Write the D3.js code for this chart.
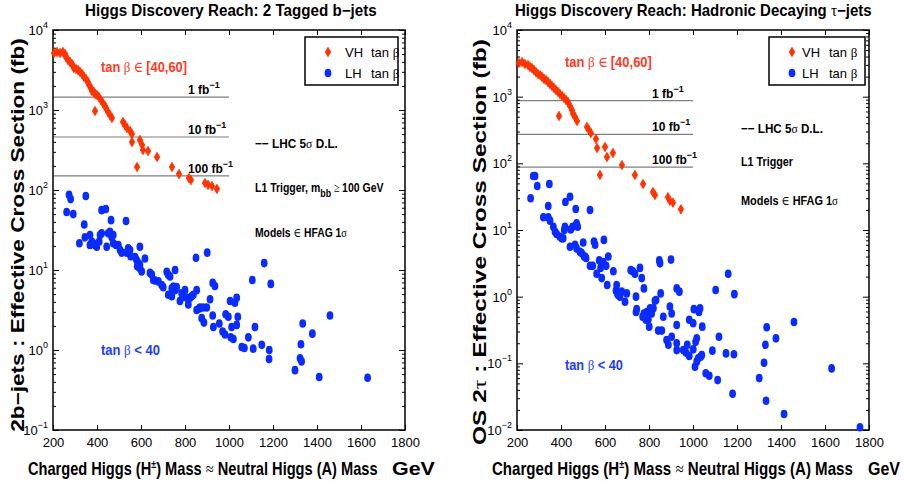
<!DOCTYPE html>
<html><head><meta charset="utf-8">
<script src="https://cdn.jsdelivr.net/npm/d3@7"></script>
<style>html,body{margin:0;padding:0;background:#fff;} svg{display:block;}</style>
</head><body>
<svg id="chart" width="905" height="489"></svg>
<script>
// ---------------- DATA ----------------
const xTicks = [200, 400, 600, 800, 1000, 1200, 1400, 1600, 1800];
const lumiLabels = ["1", "10", "100"];
const lumiLeft = [1450, 460, 150];   // LHC 5σ discovery limits (fb), 2b-jets
const lumiRight = [870, 272, 88];    // LHC 5σ discovery limits (fb), τ-jets
const legendLabels = ["VH", "LH"];

// [mass GeV, effective cross section fb]
const leftVH = [[205,5160],[218,5310],[232,5160],[245,5310],[255,5010],[259,4600],[268,4220],[277,3980],[286,3760],[291,3550],[295,3350],[305,3250],[314,3160],[323,2990],[332,2820],[341,2590],[350,2440],[359,2240],[364,2050],[373,1880],[377,1730],[386,1680],[391,1580],[400,1540],[409,1450],[418,1330],[427,1220],[436,1120],[441,1060],[450,944],[459,866],[468,794],[391,972],[518,708],[527,650],[536,596],[550,546],[559,501],[559,398],[595,422],[605,365],[609,316],[582,194],[632,307],[673,258],[741,194],[773,158],[818,141],[827,133],[891,122],[905,116],[923,112],[945,103]];

const leftLH = [[262,53],[273,87],[280,77],[292,50],[349,84],[320,21.6],[342,37],[345,25.6],[368,27.4],[376,22.7],[368,20.5],[383,21.6],[391,20.5],[399,19.5],[410,22.7],[414,27.4],[421,28.7],[421,56],[440,58],[444,19.5],[451,28.7],[459,30],[464,42],[467,25.6],[474,27.4],[474,21.6],[486,20.5],[497,20.5],[505,17.8],[512,16.5],[532,41],[535,16.5],[542,18.7],[550,17.8],[553,14.9],[573,14.5],[580,13.3],[588,12.2],[583,11.1],[595,19.5],[595,11.6],[595,10.5],[618,13.9],[603,9.6],[641,9.2],[649,8.8],[656,7.5],[664,7.4],[679,7.2],[694,6.5],[701,6.1],[717,9.5],[724,8.7],[732,8.3],[740,5.9],[724,4.9],[740,4.7],[755,10],[747,6.2],[755,5.6],[762,6.1],[777,4.1],[785,5.1],[790,4.6],[800,5.6],[808,4.5],[815,3.7],[823,4.5],[830,4.7],[838,4.9],[850,14.2],[853,5.6],[853,3.16],[865,3.3],[868,3.4],[882,3.4],[899,3.4],[876,2.5],[886,2.2],[901,16.5],[926,6.9],[936,6.3],[914,4.3],[926,2.7],[929,1.94],[956,2.14],[971,1.7],[982,1.56],[985,2.8],[997,2.6],[1005,4.1],[1012,1.94],[1008,1.44],[1020,1.37],[1027,3.9],[1035,4.5],[1040,2.6],[1035,2.06],[1058,1.09],[1070,1.06],[1088,1.44],[1106,7.5],[1118,1.94],[1110,1.04],[1149,1.16],[1160,12.2],[1183,1.0],[1190,6.7],[1182,0.77],[1300,0.56],[1323,0.79],[1330,0.72],[1327,1.18],[1335,2.14],[1379,1.6],[1410,0.46],[1459,2.7],[1630,0.45]];

const rightVH = [[209,3200],[223,3310],[236,3090],[250,2990],[259,2790],[268,2690],[277,2510],[286,2340],[295,2180],[305,2110],[314,1970],[323,1840],[332,1780],[341,1660],[350,1550],[359,1450],[368,1350],[377,1260],[386,1180],[395,1100],[405,1020],[414,955],[423,890],[432,830],[441,725],[450,630],[455,550],[464,495],[473,430],[391,513],[518,351],[527,316],[536,285],[559,232],[564,170],[600,176],[609,124],[636,143],[677,94],[577,67],[736,67],[773,49],[818,37],[827,33.5],[886,31],[895,27.5],[909,25.7],[945,20.4]];

const rightLH = [[274,64.6],[282,64.6],[292,45.7],[262,29.9],[347,49],[342,22.9],[320,15.5],[342,15.5],[350,13.8],[365,11.2],[373,9.4],[380,8.7],[395,7.9],[403,7.5],[410,7.5],[415,10],[418,11.2],[420,26.3],[441,31.6],[441,5.6],[444,10.2],[453,11.2],[467,20.7],[471,12.6],[476,11.2],[464,6.0],[471,5.3],[486,4.7],[494,4.5],[501,6.5],[505,4.0],[509,4.0],[514,3.8],[532,20],[532,2.9],[544,2.9],[550,6.7],[555,6.0],[562,2.2],[574,3.5],[580,2.7],[585,3.0],[585,1.9],[595,7.1],[592,3.3],[605,2.9],[610,1.5],[615,4.0],[638,2.4],[650,1.23],[653,1.5],[656,1.12],[660,1.06],[668,1.0],[676,1.19],[691,0.84],[699,1.12],[717,2.5],[726,2.4],[736,2.2],[744,0.65],[741,0.59],[741,1.0],[759,2.7],[767,1.9],[777,1.33],[777,0.56],[771,0.50],[786,0.45],[790,0.59],[797,0.46],[801,0.355],[805,0.67],[812,0.56],[820,0.67],[827,0.87],[832,0.89],[842,0.31],[847,3.5],[850,3.16],[853,1.12],[858,0.31],[865,0.50],[880,0.224],[888,0.19],[895,0.71],[900,3.6],[903,0.56],[903,0.25],[926,1.33],[938,1.19],[926,0.376],[926,0.20],[926,0.158],[956,0.158],[968,0.145],[974,0.19],[983,0.45],[983,0.129],[1001,0.40],[1001,0.162],[1004,0.65],[1012,0.21],[1017,0.237],[1009,0.089],[1017,0.106],[1024,0.119],[1027,0.59],[1032,0.67],[1035,0.126],[1040,0.133],[1042,0.355],[1058,0.071],[1074,0.065],[1088,0.155],[1103,1.26],[1112,0.056],[1118,0.25],[1150,0.141],[1160,2.2],[1180,0.035],[1186,0.137],[1188,1.09],[1301,0.060],[1323,0.102],[1329,0.19],[1335,0.347],[1332,0.0275],[1377,0.237],[1414,0.0174],[1459,0.417],[1630,0.084],[1759,0.011]];

// ---------------- STYLE ----------------
const FONT = "'Liberation Sans Narrow','Arial Narrow','Liberation Sans',Arial,sans-serif";
const SYM = "'Liberation Serif','DejaVu Serif',serif";
const RED = "#ff3300";
const BLUE = "#0a2cff";
const RED_TXT = "#ff3b1f";
const BLUE_TXT = "#1c3cff";

const svg = d3.select("#chart");

function rich(sel, parts) {
  let cur = 0;
  parts.forEach(p => {
    const ts = sel.append("tspan").text(p.t);
    const target = p.sup ? -p.sup : (p.sub ? p.sub : 0);
    if (target !== cur) { ts.attr("dy", target - cur); cur = target; }
    if (p.sym) ts.attr("font-family", SYM).attr("font-weight", "normal");
    if (p.size) ts.attr("font-size", p.size);
  });
  return sel;
}
function fitWidth(t, w, anchor) {
  const bb = t.node().getBBox();
  if (!bb.width) return;
  const s = w / bb.width;
  const ax = anchor === "middle" ? bb.x + bb.width / 2 : anchor === "end" ? bb.x + bb.width : bb.x;
  t.attr("transform", `translate(${ax},0) scale(${s},1) translate(${-ax},0)`);
}
function label(parent, x, y, parts, opt) {
  opt = opt || {};
  const t = parent.append("text").attr("x", x).attr("y", y)
    .attr("font-family", FONT).attr("font-size", opt.size || 13)
    .attr("font-weight", opt.weight || "bold").attr("fill", opt.fill || "#000")
    .attr("text-anchor", opt.anchor || "start");
  rich(t, parts);
  if (opt.width) fitWidth(t, opt.width, opt.anchor || "start");
  return t;
}

const TOP = 30, BOT = 430;

const panels = [
  {
    x0: 53, x1: 405, yDom: [0.1, 1e4], vh: leftVH, lh: leftLH, lumi: lumiLeft,
    title: { x: 85, w: 292, parts: [{t: "Higgs Discovery Reach: 2 Tagged b−jets"}] },
    ytitle: { x: 24, yc: 235, w: 394, parts: [{t: "2b−jets : Effective Cross Section  (fb)"}] },
    xtitle: { x: 28, w: 350, gx: 392, gw: 43 },
    legend: { x: 305, w: 93, sx: 23, vx: 40, tx: 66 },
    ann: [
      { x: 101, y: 72, w: 86, size: 15, fill: RED_TXT, parts: [{t: "tan "}, {t: "β", sym: 1}, {t: " ∈ ", sym: 1}, {t: "[40,60]"}] },
      { x: 255, y: 148, w: 83, size: 13, parts: [{t: "−− LHC 5"}, {t: "σ", sym: 1}, {t: " D.L."}] },
      { x: 255, y: 192, w: 129, size: 13, parts: [{t: "L1 Trigger, m"}, {t: "bb", sub: 5, size: 11}, {t: " ≥ ", sym: 1}, {t: "100 GeV"}] },
      { x: 255, y: 237, w: 92, size: 13, parts: [{t: "Models "}, {t: "∈", sym: 1}, {t: " HFAG 1"}, {t: "σ", sym: 1}] },
      { x: 101, y: 355, w: 59, size: 15, fill: BLUE_TXT, parts: [{t: "tan "}, {t: "β", sym: 1}, {t: " < 40"}] }
    ]
  },
  {
    x0: 517, x1: 869, yDom: [0.01, 1e4], vh: rightVH, lh: rightLH, lumi: lumiRight,
    title: { x: 515, w: 357, parts: [{t: "Higgs Discovery Reach: Hadronic Decaying "}, {t: "τ", sym: 1}, {t: "−jets"}] },
    ytitle: { x: 486, yc: 242, w: 406, parts: [{t: "OS 2"}, {t: "τ", sym: 1}, {t: " : Effective Cross Section  (fb)"}] },
    xtitle: { x: 492, w: 361, gx: 868, gw: 32 },
    legend: { x: 769, w: 96, sx: 23, vx: 33, tx: 60 },
    ann: [
      { x: 565, y: 67, w: 87, size: 15, fill: RED_TXT, parts: [{t: "tan "}, {t: "β", sym: 1}, {t: " ∈ ", sym: 1}, {t: "[40,60]"}] },
      { x: 741, y: 133, w: 82, size: 13, parts: [{t: "−− LHC 5"}, {t: "σ", sym: 1}, {t: " D.L."}] },
      { x: 741, y: 166, w: 52, size: 13, parts: [{t: "L1 Trigger"}] },
      { x: 741, y: 205, w: 97, size: 13, parts: [{t: "Models "}, {t: "∈", sym: 1}, {t: " HFAG 1"}, {t: "σ", sym: 1}] },
      { x: 565, y: 370, w: 58, size: 15, fill: BLUE_TXT, parts: [{t: "tan "}, {t: "β", sym: 1}, {t: " < 40"}] }
    ]
  }
];

const LUMI_END = 1000, LUMI_LABEL = 814;

panels.forEach(P => {
  const x = d3.scaleLinear().domain([200, 1800]).range([P.x0, P.x1]);
  const y = d3.scaleLog().domain(P.yDom).range([BOT, TOP]);
  const g = svg.append("g");

  const e0 = Math.round(Math.log10(P.yDom[0])), e1 = Math.round(Math.log10(P.yDom[1]));
  const majors = d3.range(e0, e1 + 1).map(e => Math.pow(10, e));
  const minors = [];
  d3.range(e0, e1).forEach(e => { for (let k = 2; k <= 9; k++) minors.push(k * Math.pow(10, e)); });

  // luminosity reach lines
  P.lumi.forEach((v, i) => {
    g.append("line").attr("x1", x(200)).attr("x2", x(LUMI_END))
      .attr("y1", y(v)).attr("y2", y(v))
      .attr("stroke", "#7f7f7f").attr("stroke-width", 1.2);
    label(g, x(LUMI_LABEL), y(v) - 3, [{t: lumiLabels[i] + " fb"}, {t: "−1", sup: 6, size: 9}], { size: 12 });
  });

  // axes
  const styleAx = s => { s.select(".domain").remove(); s.selectAll("line").attr("stroke", "#000"); };
  g.append("g").attr("transform", `translate(0,${BOT})`)
    .call(d3.axisBottom(x).tickValues(xTicks).tickSizeInner(-5).tickSizeOuter(0).tickPadding(8).tickFormat(d3.format("d")))
    .call(styleAx)
    .call(s => s.selectAll("text").attr("font-family", FONT).attr("font-size", 13).attr("fill", "#000"));
  g.append("g").attr("transform", `translate(0,${TOP})`)
    .call(d3.axisTop(x).tickValues(xTicks).tickSizeInner(-5).tickSizeOuter(0).tickFormat(""))
    .call(styleAx);
  [[d3.axisLeft, P.x0], [d3.axisRight, P.x1]].forEach(([ax, px]) => {
    g.append("g").attr("transform", `translate(${px},0)`)
      .call(ax(y).tickValues(majors).tickSizeInner(-6).tickSizeOuter(0).tickFormat(""))
      .call(styleAx);
    g.append("g").attr("transform", `translate(${px},0)`)
      .call(ax(y).tickValues(minors).tickSizeInner(-3).tickSizeOuter(0).tickFormat(""))
      .call(styleAx);
  });
  majors.forEach(v => {
    const e = Math.round(Math.log10(v));
    label(g, P.x0 - 5, y(v) + 5, [{t: "10"}, {t: e < 0 ? "−" + (-e) : String(e), sup: 7, size: 9}],
      { size: 13, weight: "normal", anchor: "end" });
  });

  // frame
  g.append("rect").attr("x", P.x0).attr("y", TOP).attr("width", P.x1 - P.x0).attr("height", BOT - TOP)
    .attr("fill", "none").attr("stroke", "#000").attr("stroke-width", 1.5);

  // data
  const diamond = d3.symbol(d3.symbolDiamond, 26);
  g.append("g").selectAll("path").data(P.vh).join("path")
    .attr("transform", d => `translate(${x(d[0])},${y(d[1])})`)
    .attr("d", diamond).attr("fill", RED).attr("stroke", RED).attr("stroke-width", 0.8);
  g.append("g").selectAll("ellipse").data(P.lh).join("ellipse")
    .attr("cx", d => x(d[0])).attr("cy", d => y(d[1]))
    .attr("rx", 3.4).attr("ry", 4.3).attr("fill", BLUE);

  // legend
  const L = P.legend;
  g.append("rect").attr("x", L.x).attr("y", 37).attr("width", L.w).attr("height", 48)
    .attr("fill", "#fff").attr("stroke", "#000").attr("stroke-width", 1.5);
  g.append("path").attr("transform", `translate(${L.x + L.sx},52)`).attr("d", diamond)
    .attr("fill", RED).attr("stroke", RED).attr("stroke-width", 0.8);
  g.append("ellipse").attr("cx", L.x + L.sx).attr("cy", 73).attr("rx", 3.4).attr("ry", 4.3).attr("fill", BLUE);
  legendLabels.forEach((lab, i) => {
    const by = 57 + i * 21;
    label(g, L.x + L.vx, by, [{t: lab}], { size: 13, weight: "normal" });
    label(g, L.x + L.tx, by, [{t: "tan "}, {t: "β", sym: 1}], { size: 13, weight: "normal" });
  });

  // annotations
  P.ann.forEach(a => label(g, a.x, a.y, a.parts, { size: a.size, fill: a.fill || "#000", width: a.w }));

  // titles
  label(g, P.title.x, 16, P.title.parts, { size: 16, width: P.title.w });
  label(g, P.xtitle.x, 475, [{t: "Charged Higgs (H"}, {t: "±", sup: 7, size: 11}, {t: ") Mass "}, {t: "≈", sym: 1}, {t: " Neutral Higgs (A) Mass"}],
    { size: 18, width: P.xtitle.w });
  label(g, P.xtitle.gx, 475, [{t: "GeV"}], { size: 18, width: P.xtitle.gw });
  const yt = g.append("g").attr("transform", `translate(${P.ytitle.x},${P.ytitle.yc}) rotate(-90)`);
  label(yt, 0, 0, P.ytitle.parts, { size: 18, anchor: "middle", width: P.ytitle.w });
});
</script>
</body></html>
